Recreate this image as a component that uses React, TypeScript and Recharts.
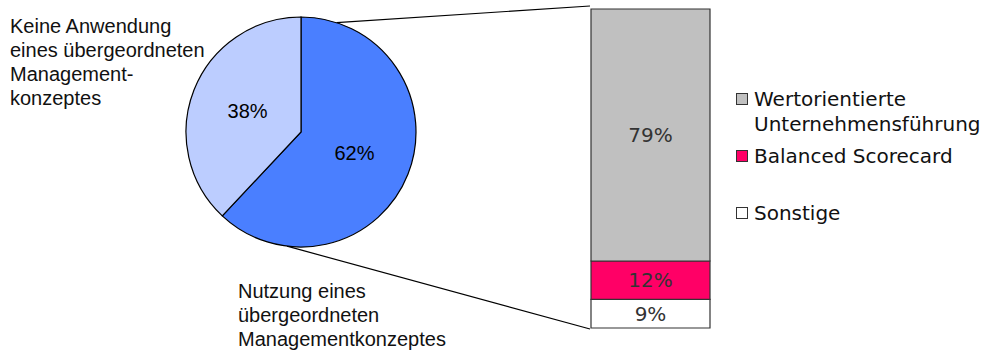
import React from 'react';
import { PieChart, Pie, Cell, BarChart, Bar, XAxis, YAxis, LabelList } from 'recharts';

// pie: share of companies using an overarching management concept
const pieNames = ['Nutzung', 'Keine Anwendung'];
const pieValues = [62, 38];
const pieColors = ['#4A7FFF', '#BCCDFF'];

// bar: breakdown of the "Nutzung" slice (bottom to top)
const barKeys = ['sonstige', 'bsc', 'wert'];
const barNames = ['Sonstige', 'Balanced Scorecard', 'Wertorientierte Unternehmensführung'];
const barValues = [9, 12, 79];
const barColors = ['#FFFFFF', '#FF0066', '#C0C0C0'];

const usedLabel = ['Nutzung eines', 'übergeordneten', 'Managementkonzeptes'];
const notUsedLabel = ['Keine Anwendung', 'eines übergeordneten', 'Management-', 'konzeptes'];
const legendLines: string[][] = [['Wertorientierte', 'Unternehmensführung'], ['Balanced Scorecard'], ['Sonstige']];

const pieData = pieNames.map((name, i) => ({ name, value: pieValues[i] }));
const barRow: Record<string, number | string> = { name: 'Nutzung' };
barKeys.forEach((k, i) => { barRow[k] = barValues[i]; });
const barData = [barRow];

// layout
const PIE_LEFT = 181;
const PIE_TOP = 12;
const PIE_SIZE = 240;
const R = 115;
const CX = PIE_LEFT + PIE_SIZE / 2;
const CY = PIE_TOP + PIE_SIZE / 2;
const BAR_LEFT = 590;
const BAR_TOP = 8;
const BAR_W = 121;
const BAR_H = 321;

const arial = '"Liberation Sans", Arial, sans-serif';
const verdana = '"DejaVu Sans", Verdana, sans-serif';
const noMargin = { top: 0, right: 0, bottom: 0, left: 0 };

// point on the pie rim, angle in degrees clockwise from 12 o'clock
const rim = (deg: number) => {
  const a = (deg * Math.PI) / 180;
  return { x: CX + R * Math.sin(a), y: CY - R * Math.cos(a) };
};

const pieLabel = (p: any) => {
  const rad = (Math.PI / 180) * p.midAngle;
  const r = p.outerRadius * 0.5;
  const x = p.cx + r * Math.cos(rad);
  const y = p.cy - r * Math.sin(rad);
  return (
    <text x={x} y={y} textAnchor="middle" dominantBaseline="central"
      fontFamily={arial} fontSize={20} fill="#000">
      {`${p.value}%`}
    </text>
  );
};

export default function App() {
  const top = rim(18);
  const bottom = rim(187);
  const legendItems = legendLines.map((lines, i) => ({ lines, color: barColors[barColors.length - 1 - i] }));

  return (
    <div style={{ position: 'absolute', left: 0, top: 0, width: 991, height: 353, background: '#fff' }}>
      <svg width={991} height={353} style={{ position: 'absolute', left: 0, top: 0 }}>
        <line x1={top.x} y1={top.y} x2={BAR_LEFT} y2={BAR_TOP - 2} stroke="#000" strokeWidth={1.2} />
        <line x1={bottom.x} y1={bottom.y} x2={BAR_LEFT} y2={BAR_TOP + BAR_H} stroke="#000" strokeWidth={1.2} />
      </svg>

      <div style={{ position: 'absolute', left: PIE_LEFT, top: PIE_TOP }}>
        <PieChart width={PIE_SIZE} height={PIE_SIZE} margin={noMargin}>
          <Pie
            data={pieData}
            dataKey="value"
            cx={PIE_SIZE / 2}
            cy={PIE_SIZE / 2}
            outerRadius={R}
            startAngle={90}
            endAngle={-270}
            stroke="#000"
            strokeWidth={1.2}
            label={pieLabel}
            labelLine={false}
            isAnimationActive={false}
          >
            {pieData.map((d, i) => <Cell key={d.name} fill={pieColors[i]} />)}
          </Pie>
        </PieChart>
      </div>

      <div style={{ position: 'absolute', left: BAR_LEFT, top: BAR_TOP }}>
        <BarChart width={BAR_W} height={BAR_H} data={barData} barCategoryGap={0}
          margin={{ top: 1, right: 1, bottom: 1, left: 1 }}>
          <XAxis dataKey="name" hide />
          <YAxis hide domain={[0, 100]} />
          {barKeys.map((k, i) => (
            <Bar key={k} dataKey={k} name={barNames[i]} stackId="a" fill={barColors[i]}
              stroke="#333" strokeWidth={1.2} isAnimationActive={false}>
              <LabelList dataKey={k} position="center" formatter={(v: any) => `${v}%`}
                style={{ fontFamily: verdana, fontSize: 20, fill: '#333' }} />
            </Bar>
          ))}
        </BarChart>
      </div>

      <div style={{ position: 'absolute', left: 10, top: 14, fontFamily: arial, fontSize: 20, lineHeight: '24px', color: '#111' }}>
        {notUsedLabel.map((t) => <div key={t}>{t}</div>)}
      </div>
      <div style={{ position: 'absolute', left: 238, top: 279, fontFamily: arial, fontSize: 20, lineHeight: '24px', color: '#111' }}>
        {usedLabel.map((t) => <div key={t}>{t}</div>)}
      </div>

      {legendItems.map((item, i) => (
        <div key={i} style={{ position: 'absolute', left: 736, top: 87 + i * 57, fontFamily: verdana, fontSize: 20, lineHeight: '25px', color: '#111' }}>
          <div style={{ position: 'absolute', left: 0, top: 6, width: 12, height: 12, boxSizing: 'border-box', border: '1px solid #333', background: item.color }} />
          <div style={{ marginLeft: 18 }}>
            {item.lines.map((t) => <div key={t} style={{ whiteSpace: 'nowrap' }}>{t}</div>)}
          </div>
        </div>
      ))}
    </div>
  );
}
